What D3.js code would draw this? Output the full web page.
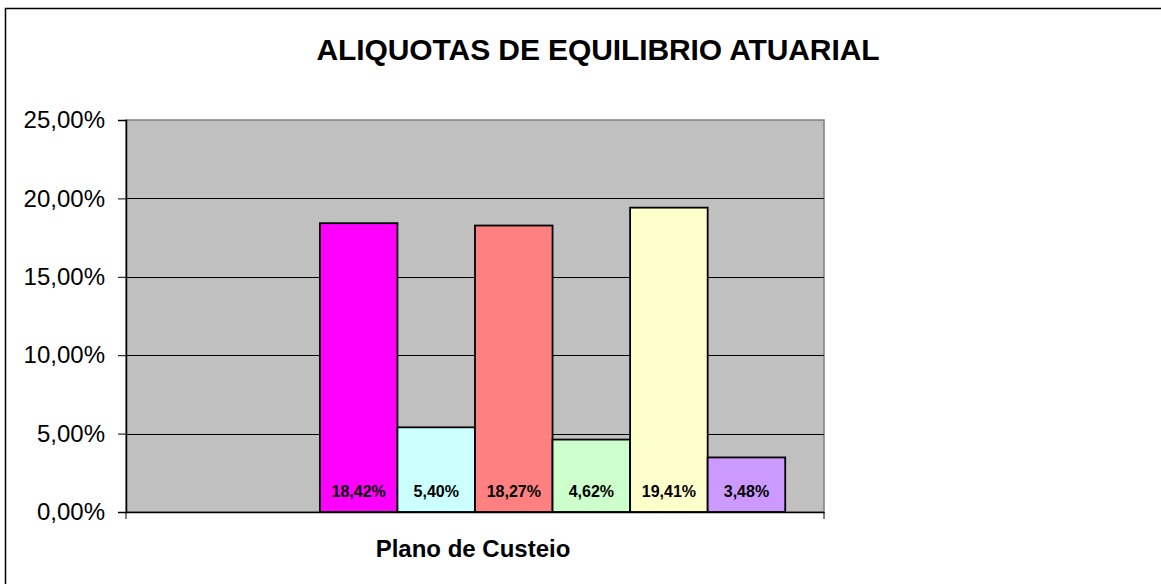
<!DOCTYPE html>
<html>
<head>
<meta charset="utf-8">
<script src="https://cdn.jsdelivr.net/npm/d3@7.9.0/dist/d3.min.js"></script>
<style>
  html, body { margin: 0; padding: 0; background: #fff; }
  svg { display: block; font-family: Arial, "Liberation Sans", sans-serif; }
</style>
</head>
<body>
<div id="chart"></div>
<script>
// Chart data
const title = 'ALIQUOTAS DE EQUILIBRIO ATUARIAL';
const categories = ['Plano de Custeio'];
// eight series slots in the cluster, the first two are empty
const seriesValues = [null, null, 18.42, 5.40, 18.27, 4.62, 19.41, 3.48];
const seriesColors = ['#000080', '#FF00FF', '#FF00FF', '#CCFFFF', '#FF8080', '#CCFFCC', '#FFFFCC', '#CC99FF'];
const yTicks = [0, 5, 10, 15, 20, 25];

const width = 1161;
const height = 584;
const plot = { left: 126, right: 824, top: 120, bottom: 512 };

const fmt = (v) => v.toFixed(2).replace('.', ',') + '%';

const svg = d3.select('#chart')
    .append('svg')
    .attr('width', width)
    .attr('height', height);

// outer chart border
svg.append('rect')
    .attr('x', 5.5).attr('y', 8.5)
    .attr('width', 1200).attr('height', 600)
    .attr('fill', '#fff')
    .attr('stroke', '#000')
    .attr('stroke-width', 1.5);

// Scales
const x0 = d3.scaleBand()
    .domain(categories)
    .range([plot.left, plot.right])
    .padding(0);

const x1 = d3.scaleBand()
    .domain(d3.range(seriesValues.length))
    .range([0, x0.bandwidth()])
    .paddingInner(0)
    .paddingOuter(0.5);

const y = d3.scaleLinear()
    .domain([0, 25])
    .range([plot.bottom, plot.top]);

// plot area background
svg.append('rect')
    .attr('x', plot.left).attr('y', plot.top)
    .attr('width', plot.right - plot.left)
    .attr('height', plot.bottom - plot.top)
    .attr('fill', '#C0C0C0')
    .attr('stroke', '#808080')
    .attr('stroke-width', 1.5);

// gridlines
svg.append('g')
    .attr('class', 'gridlines')
    .selectAll('line')
    .data(yTicks.filter((d) => d > 0 && d < 25))
    .join('line')
    .attr('x1', plot.left).attr('x2', plot.right)
    .attr('y1', (d) => Math.round(y(d)) + 0.5)
    .attr('y2', (d) => Math.round(y(d)) + 0.5)
    .attr('stroke', '#000')
    .attr('stroke-width', 1);

// Bars
const bars = svg.append('g').attr('class', 'bars');
categories.forEach((cat) => {
    const g = bars.append('g').attr('transform', `translate(${x0(cat)},0)`);
    const items = seriesValues
        .map((v, i) => ({ v, i }))
        .filter((d) => d.v !== null);

    g.selectAll('rect')
        .data(items)
        .join('rect')
        .attr('x', (d) => x1(d.i))
        .attr('y', (d) => y(d.v))
        .attr('width', x1.bandwidth())
        .attr('height', (d) => y(0) - y(d.v))
        .attr('fill', (d) => seriesColors[d.i])
        .attr('stroke', '#000')
        .attr('stroke-width', 1.8);

    g.selectAll('text')
        .data(items)
        .join('text')
        .attr('x', (d) => x1(d.i) + x1.bandwidth() / 2)
        .attr('y', plot.bottom - 15)
        .attr('text-anchor', 'middle')
        .attr('font-size', 16)
        .attr('font-weight', 'bold')
        .attr('fill', '#000')
        .text((d) => fmt(d.v));
});

// Y axis
const yAxis = svg.append('g')
    .attr('transform', `translate(${plot.left},0)`)
    .call(d3.axisLeft(y).tickValues(yTicks).tickSize(8).tickPadding(13).tickFormat(fmt));
yAxis.select('.domain').attr('stroke', '#000').attr('stroke-width', 1.5);
yAxis.selectAll('.tick line').attr('stroke', '#000');
yAxis.selectAll('.tick text')
    .attr('font-size', 24)
    .attr('font-family', 'Arial, "Liberation Sans", sans-serif')
    .attr('fill', '#000');

// X axis
const xAxis = svg.append('g')
    .attr('transform', `translate(0,${plot.bottom})`)
    .call(d3.axisBottom(x0).tickSize(0).tickFormat(''));
xAxis.select('.domain').attr('stroke', '#000').attr('stroke-width', 1.5);
xAxis.selectAll('.edge')
    .data([plot.left, plot.right])
    .join('line')
    .attr('class', 'edge')
    .attr('x1', (d) => d).attr('x2', (d) => d)
    .attr('y1', 0).attr('y2', 7)
    .attr('stroke', '#000');

// category label
svg.append('text')
    .attr('x', x0(categories[0]) + x0.bandwidth() / 2 - 2)
    .attr('y', 557)
    .attr('text-anchor', 'middle')
    .attr('font-size', 24)
    .attr('font-weight', 'bold')
    .text(categories[0]);

// title
svg.append('text')
    .attr('x', 598)
    .attr('y', 60)
    .attr('text-anchor', 'middle')
    .attr('font-size', 30)
    .attr('font-weight', 'bold')
    .attr('letter-spacing', -0.1)
    .text(title);
</script>
</body>
</html>
